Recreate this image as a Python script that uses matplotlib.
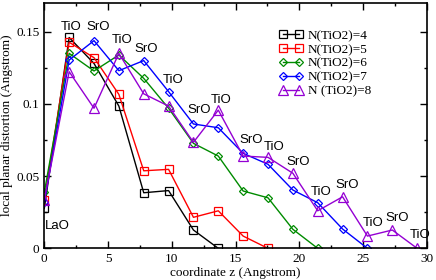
import numpy as np
import matplotlib
matplotlib.use("Agg")
import matplotlib.pyplot as plt

# layer spacing along z
dz = 1.95

# local planar distortion for each slab thickness
n4 = [0.0277, 0.146, 0.128, 0.0985, 0.0385, 0.040, 0.0127, 0.0]
n5 = [0.0334, 0.1427, 0.132, 0.1066, 0.0537, 0.0547, 0.0215, 0.026, 0.0085, 0.0]
n6 = [0.0388, 0.135, 0.1228, 0.1339, 0.1177, 0.097, 0.0727, 0.0639, 0.0397,
      0.035, 0.0132, 0.0]
n7 = [0.032, 0.1304, 0.1438, 0.123, 0.130, 0.1085, 0.0861, 0.0835, 0.0658,
      0.0582, 0.0404, 0.0316, 0.0134, 0.0]
n8 = [0.0334, 0.1223, 0.097, 0.135, 0.107, 0.0985, 0.0734, 0.0957, 0.0639,
      0.063, 0.052, 0.026, 0.0357, 0.0085, 0.0127, 0.0]

series = [
    ("N(TiO2)=4", n4, "black", "s", 6),
    ("N(TiO2)=5", n5, "#ff0000", "s", 6),
    ("N(TiO2)=6", n6, "#008b00", "D", 4.3),
    ("N(TiO2)=7", n7, "#0000ff", "D", 4.3),
    ("N (TiO2)=8", n8, "#9400d3", "^", 6.5),
]

# layer labels and where they sit
layer_labels = ["LaO", "TiO", "SrO", "TiO", "SrO", "TiO", "SrO", "TiO", "SrO",
                "TiO", "SrO", "TiO", "SrO", "TiO", "SrO", "TiO"]
label_z = [1.05, 2.1, 4.2, 6.1, 8.0, 10.1, 12.15, 13.9, 16.2, 18.05, 19.9,
           21.7, 23.75, 25.8, 27.7, 29.45]
label_y = [0.0154, 0.153, 0.153, 0.144, 0.138, 0.1166, 0.0957, 0.103, 0.075,
           0.070, 0.0596, 0.039, 0.0438, 0.0173, 0.0208, 0.0092]

plt.rcParams['font.family'] = ['Liberation Serif', 'DejaVu Serif']

fig = plt.figure(figsize=(4.36, 2.8), dpi=100)
ax = fig.add_axes([0.1016, 0.113, 0.8771, 0.877])

for name, vals, col, mk, ms in series:
    z = np.arange(len(vals)) * dz
    ax.plot(z, vals, color=col, marker=mk, markersize=ms, markerfacecolor='none',
            markeredgecolor=col, markeredgewidth=0.9, linewidth=1.0, label=name)

for txt, zx, zy in zip(layer_labels, label_z, label_y):
    ax.text(zx, zy, txt, ha='center', va='center', fontsize=9.5,
            family=['Liberation Sans', 'DejaVu Sans'])

ax.set_xlim(0, 30)
ax.set_ylim(0, 0.17)
ax.set_xticks([0, 5, 10, 15, 20, 25, 30])
ax.set_xticks(np.arange(0, 30.1, 2.5), minor=True)
ax.set_yticks([0, 0.05, 0.1, 0.15])
ax.set_yticklabels(["0", "0.05", "0.1", "0.15"])
ax.set_yticks(np.arange(0, 0.17, 0.025), minor=True)
ax.tick_params(which='both', direction='in', top=True, right=True, labelsize=9.5)
ax.tick_params(which='major', length=5, width=1)
ax.tick_params(which='minor', length=2.5, width=1)
for sp in ax.spines.values():
    sp.set_linewidth(1.2)

ax.set_xlabel("coordinate z (Angstrom)", fontsize=9.5, labelpad=1)
ax.set_ylabel("local planar distortion (Angstrom)", fontsize=9.5, labelpad=2)

ax.legend(loc='upper left', bbox_to_anchor=(0.615, 0.89), frameon=False,
          numpoints=2, fontsize=9.5, handlelength=1.8, handletextpad=0.35,
          labelspacing=0.12, borderaxespad=0, borderpad=0)

fig.savefig("out.png", dpi=100)
